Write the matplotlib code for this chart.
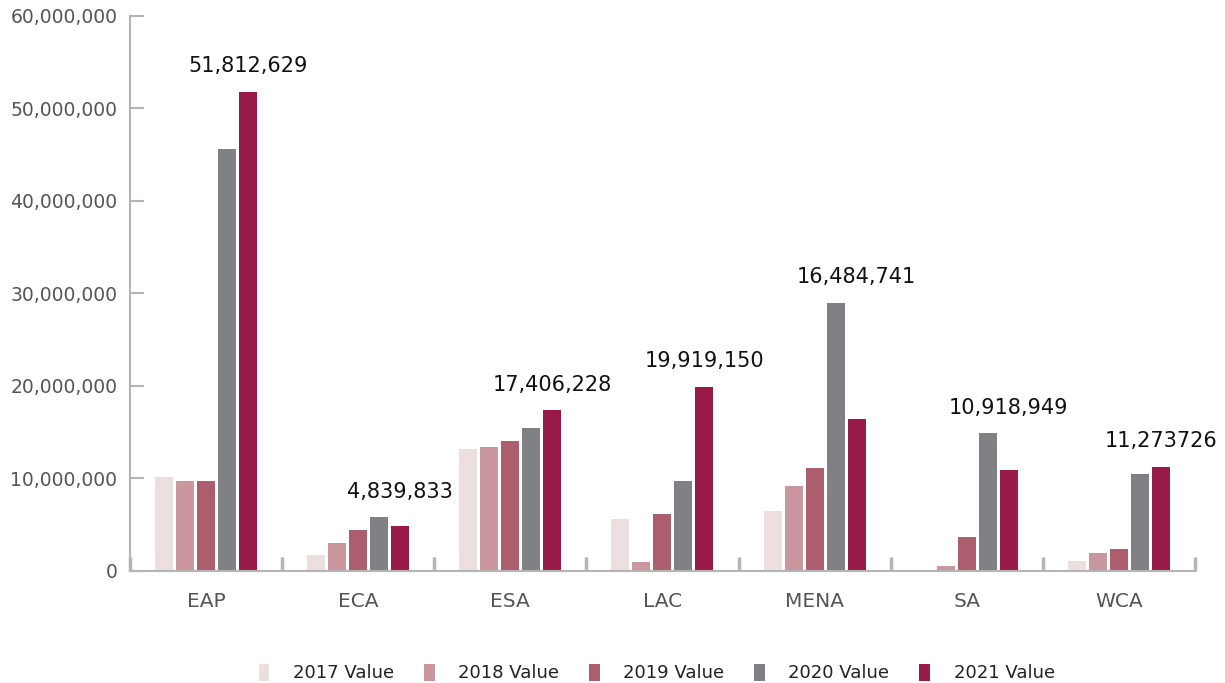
import matplotlib
matplotlib.use('Agg')
import matplotlib.pyplot as plt
import numpy as np

# Data
regions = ["EAP", "ECA", "ESA", "LAC", "MENA", "SA", "WCA"]
years = ["2017 Value", "2018 Value", "2019 Value", "2020 Value", "2021 Value"]
v2017 = [10200000, 1700000, 13200000, 5600000, 6500000, 0, 1050000]
v2018 = [9700000, 3000000, 13400000, 970000, 9200000, 500000, 1900000]
v2019 = [9700000, 4400000, 14050000, 6200000, 11100000, 3700000, 2400000]
v2020 = [45600000, 5800000, 15500000, 9700000, 29000000, 14900000, 10500000]
v2021 = [51812629, 4839833, 17406228, 19919150, 16484741, 10918949, 11273726]
labels_2021 = ["51,812,629", "4,839,833", "17,406,228", "19,919,150",
               "16,484,741", "10,918,949", "11,273726"]

series = [v2017, v2018, v2019, v2020, v2021]
colors = ["#ecdfe0", "#cb979f", "#ad5e6e", "#818185", "#971a48"]

fig = plt.figure(figsize=(12.25, 6.83), dpi=100)
ax = fig.add_axes([0.106, 0.164, 0.8695, 0.8126])

centers = np.arange(len(regions)) + 0.5
width = 0.118
pitch = 0.138
for i, (vals, col, name) in enumerate(zip(series, colors, years)):
    xs = centers + (i - 2) * pitch
    ax.bar(xs, vals, width=width, color=col, label=name)

# value labels sit over the 2021 bar, above the tallest bar of the group
group_max = np.max(np.array(series), axis=0)
for k, txt in enumerate(labels_2021):
    ax.annotate(txt, (centers[k] + 2 * pitch, group_max[k]),
                xytext=(0, 14), textcoords="offset points",
                ha="center", va="baseline", fontsize=15, color="#111111")

ax.set_xlim(0, len(regions))
ax.set_ylim(0, 60000000)
ax.set_yticks(np.arange(0, 60000001, 10000000))
ax.yaxis.set_major_formatter(matplotlib.ticker.FuncFormatter(lambda v, p: f"{int(v):,}"))

ax.set_xticks(np.arange(0, len(regions) + 1))
ax.set_xticklabels([])
ax.set_xticks(centers, minor=True)
ax.set_xticklabels(regions, minor=True)

spine_col = "#b5b5b5"
for s in ["top", "right"]:
    ax.spines[s].set_visible(False)
for s in ["left", "bottom"]:
    ax.spines[s].set_color(spine_col)
    ax.spines[s].set_linewidth(1.5)

ax.tick_params(axis="y", direction="in", length=10, width=1.5, color=spine_col,
               labelsize=13.5, labelcolor="#555555", pad=9)
ax.tick_params(axis="x", which="major", direction="in", length=10, width=2.5, color=spine_col)
ax.tick_params(axis="x", which="minor", length=0, labelsize=14.5, labelcolor="#555555", pad=15)

leg = fig.legend(loc="lower center", bbox_to_anchor=(0.536, -0.023), ncol=5, frameon=False,
                 fontsize=13, handlelength=0.6, handleheight=1.1, handletextpad=1.3,
                 columnspacing=1.65)
for t in leg.get_texts():
    t.set_color("#222222")

fig.savefig("out.png", dpi=100)
